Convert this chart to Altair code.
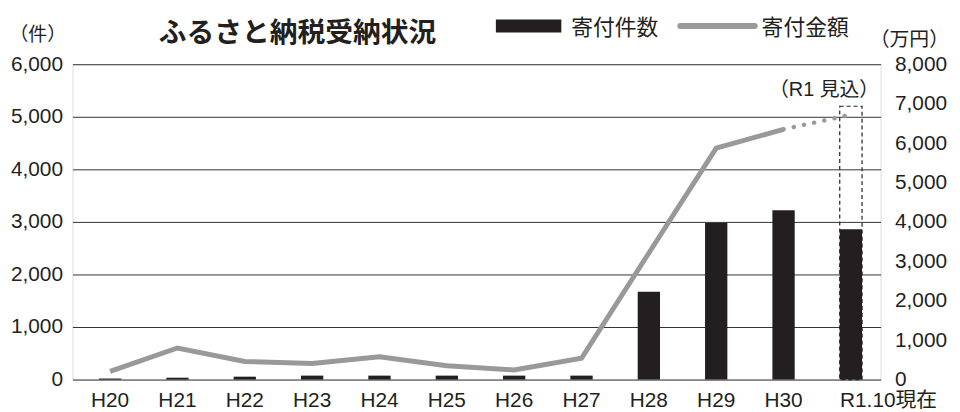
import altair as alt
import pandas as pd

years = ["H20", "H21", "H22", "H23", "H24", "H25", "H26", "H27", "H28", "H29", "H30", "R1.10現在"]
counts = [20, 35, 55, 75, 75, 75, 75, 75, 1670, 2985, 3220, 2860]
amounts = [210, 800, 460, 410, 580, 350, 245, 540, 3210, 5870, 6350, 6720]
proj_year = ["R1.10現在"]
proj_count = [5200]
left_ticks = [0, 1000, 2000, 3000, 4000, 5000, 6000]
right_ticks = [0, 1000, 2000, 3000, 4000, 5000, 6000, 7000, 8000]

LATIN = "Liberation Sans, Arial, Noto Sans CJK JP, sans-serif"
CJK = "Noto Sans CJK JP, sans-serif"
INK = "#231f20"
GRAY = "#999999"

df = pd.DataFrame({"year": years, "count": counts, "amount": amounts})
solid_df = df.iloc[:11]
dotted_df = df.iloc[10:]
proj_df = pd.DataFrame({"year": proj_year, "count": proj_count})

x_enc = alt.X(
    "year:N",
    sort=years,
    scale=alt.Scale(paddingInner=0, paddingOuter=0),
    axis=alt.Axis(
        title=None, labelAngle=0, domain=False, ticks=False, labelPadding=10,
        labelFontSize=21, labelFont=LATIN, labelColor=INK,
        labelOffset={"condition": {"test": "datum.value === 'R1.10現在'", "value": 42}, "value": 4},
    ),
)

y_left = alt.Scale(domain=[0, 6000])
y_right = alt.Scale(domain=[0, 8000])

proj_bar = alt.Chart(proj_df).mark_bar(
    fill="transparent", stroke=INK, strokeWidth=1.2, strokeDash=[4, 3], size=22.5, xOffset=4
).encode(x=x_enc, y=alt.Y("count:Q", scale=y_left, axis=None))

bars = alt.Chart(df).mark_bar(color=INK, size=22.5, xOffset=4).encode(
    x=x_enc,
    y=alt.Y(
        "count:Q", scale=y_left,
        axis=alt.Axis(
            title=None, orient="left", values=left_ticks, format=",d", grid=True,
            gridColor="#333333", gridWidth=1, domain=False, ticks=False, labelPadding=10,
            labelFontSize=21, labelFont=LATIN, labelColor=INK,
        ),
    ),
)

line_solid = alt.Chart(solid_df).mark_line(color=GRAY, strokeWidth=5, xOffset=4).encode(
    x=x_enc,
    y=alt.Y(
        "amount:Q", scale=y_right,
        axis=alt.Axis(
            title=None, orient="right", values=right_ticks, format=",d", grid=False,
            domain=False, ticks=False, labelPadding=14,
            labelFontSize=21, labelFont=LATIN, labelColor=INK,
        ),
    ),
)

line_dotted = alt.Chart(dotted_df).mark_line(
    color=GRAY, strokeWidth=4.5, strokeCap="round", strokeDash=[0.1, 10.4], xOffset=4
).encode(x=x_enc, y=alt.Y("amount:Q", scale=y_right, axis=None))


def label(text, x, y, size, font=CJK, align="center", weight="normal", baseline="middle"):
    return alt.Chart(pd.DataFrame({"t": [text]})).mark_text(
        font=font, fontSize=size, align=align, baseline=baseline, fontWeight=weight, color=INK
    ).encode(text="t:N", x=alt.value(x), y=alt.value(y))


title = label("ふるさと納税受納状況", 227, -22, 28, weight="bold", baseline="alphabetic")
unit_left = label("（件）", -35, -29, 19)
unit_right = label("（万円）", 844, -24, 20)
proj_note = label("（R1 見込）", 758, 26, 20, font=LATIN)

leg_rect = alt.Chart(pd.DataFrame({"k": [0]})).mark_rect(color=INK).encode(
    x=alt.value(427), x2=alt.value(493), y=alt.value(-45), y2=alt.value(-32)
)
leg_line = alt.Chart(pd.DataFrame({"k": [0]})).mark_rule(
    color=GRAY, strokeWidth=6, strokeCap="round"
).encode(x=alt.value(613), x2=alt.value(688), y=alt.value(-38.5))
leg_t1 = label("寄付件数", 503, -36, 22, align="left")
leg_t2 = label("寄付金額", 695, -36, 22, align="left")

chart = alt.layer(
    proj_bar, bars, line_solid, line_dotted,
    title, unit_left, unit_right, proj_note, leg_rect, leg_line, leg_t1, leg_t2,
).resolve_scale(y="independent").properties(
    width=815, height=318,
    autosize=alt.AutoSizeParams(type="none"),
    padding={"left": 65, "top": 55, "right": 72, "bottom": 31},
).configure_view(stroke=None).configure(background="white")

chart.save("out.html", embed_options={"renderer": "svg", "actions": False})
